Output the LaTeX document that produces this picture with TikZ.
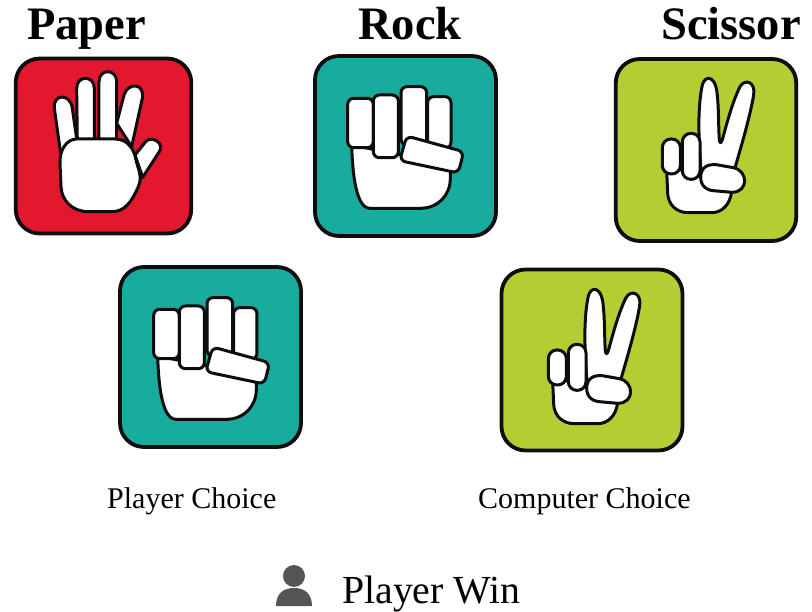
\documentclass[tikz,border=0pt]{standalone}
\usepackage{fontspec}
\setmainfont{Liberation Serif}
\definecolor{cardred}{HTML}{E3182E}
\definecolor{cardteal}{HTML}{17AC9E}
\definecolor{cardgreen}{HTML}{B3CE33}
\definecolor{iconGrey}{HTML}{555555}
\tikzset{
  card/.style = {draw = black!95, line width = 3.8pt, rounded corners = 24pt, inner sep = 0pt},
  hand/.style = {draw = black!95, fill = white, line width = 3pt, line join = round},
  heading/.style = {anchor = base west, inner sep = 0pt, font = \fontsize{46.5}{46.5}\selectfont\bfseries},
  caption/.style = {anchor = base west, inner sep = 0pt, font = \fontsize{30}{30}\selectfont},
  rockhand/.pic = {
    \draw [hand] (140,300) .. controls (142,370) and (150,490) .. (195,490) -- (345,490)
      .. controls (400,490) and (436,450) .. (436,400) -- (436,360) -- cycle;
    \draw [hand, rounded corners = 6pt] (128,160) rectangle (205,308);
    \draw [hand, rounded corners = 6pt] (288,125) rectangle (365,300);
    \draw [hand, rounded corners = 6pt] (368,155) rectangle (438,310);
    \draw [hand, rounded corners = 6pt] (205,150) rectangle (280,338);
    \draw [hand, rounded corners = 6pt] (305,273) -- (476,320) -- (460,384) -- (284,347) -- cycle;
  },
  paperhand/.pic = {
    \draw [hand] (182,340) -- (163,205) .. controls (158,160) and (212,160) .. (217,205) -- (232,310) -- cycle;
    \draw [hand] (232,310) -- (230,145) .. controls (230,105) and (283,105) .. (283,145) -- (283,310) -- cycle;
    \draw [hand] (297,310) -- (297,125) .. controls (297,85) and (350,85) .. (350,125) -- (350,310) -- cycle;
    \draw [hand] (350,250) -- (372,165) .. controls (385,125) and (435,130) .. (427,175) -- (395,320) -- cycle;
    \draw [hand] (405,345) -- (437,305) .. controls (455,285) and (495,310) .. (478,335) -- (428,412) -- cycle;
    \draw [hand] (230,297) -- (345,297) .. controls (385,297) and (403,330) .. (408,360)
      .. controls (415,390) and (428,410) .. (415,440) .. controls (395,485) and (375,515) .. (335,515)
      -- (265,515) .. controls (215,515) and (185,480) .. (183,440) -- (180,370)
      .. controls (178,330) and (200,297) .. (230,297) -- cycle;
  },
  scissorhand/.pic = {
    \draw [hand] (185,360) -- (188,430) .. controls (190,465) and (215,488) .. (250,488) -- (320,488)
      .. controls (350,488) and (375,465) .. (380,425) -- (385,360) -- cycle;
    \draw [hand] (288,360) .. controls (280,260) and (278,170) .. (292,105)
      .. controls (300,75) and (328,78) .. (335,120) .. controls (342,170) and (340,230) .. (343,270)
      .. controls (345,285) and (350,278) .. (354,262) .. controls (368,210) and (385,150) .. (405,110)
      .. controls (420,85) and (452,95) .. (446,135) .. controls (435,200) and (410,285) .. (388,360) -- cycle;
    \draw [hand, rounded corners = 8.5pt] (172,267) rectangle (226,372);
    \draw [hand, rounded corners = 8.5pt] (232,250) rectangle (285,388);
    \draw [hand] (288,372) .. controls (293,345) and (320,340) .. (345,346) -- (385,353)
      .. controls (430,362) and (432,427) .. (380,427) -- (325,422) .. controls (298,420) and (283,400) .. (288,372) -- cycle;
  },
}

\begin{document}
\begin{tikzpicture}[x = 1pt, y = -1pt]
\useasboundingbox (0,0) rectangle (812,612);

% top row
\node [card, fill = cardred, minimum width = 175.5pt, minimum height = 175pt] (paperCard) at (103.5,146) {};
\node [card, fill = cardteal, minimum width = 181pt, minimum height = 180pt] (rockCard) at (405.5,146) {};
\node [card, fill = cardgreen, minimum width = 180.5pt, minimum height = 182pt] (scissorCard) at (706,150) {};

\pic [scale = 1/3] at (0,40) {paperhand};
\pic [scale = 1/3] at (305,45) {rockhand};
\pic [scale = 1/3] at (605,50) {scissorhand};

\node [heading] (paperText) at (27,40) {Paper};
\node [heading] (rockText) at (358,40) {Rock};
\node [heading] (scissorText) at (661,40) {Scissor};

% the two choices
\node [card, fill = cardteal, minimum width = 181pt, minimum height = 180pt] (playerCard) at (210.5,357) {};
\node [card, fill = cardgreen, minimum width = 181pt, minimum height = 181pt] (computerCard) at (592,360) {};

\pic [scale = 1/3] at (111,256) {rockhand};
\pic [scale = 1/3] at (491,261) {scissorhand};

\node [caption] (playerText) at (107,508) {Player Choice};
\node [caption] (computerText) at (478,508) {Computer Choice};

% result
\fill [iconGrey] (294,576) circle (11);
\fill [iconGrey] (276,606) .. controls (276,593) and (284,588) .. (294,588)
  .. controls (304,588) and (312,593) .. (312,606) -- cycle;
\node [caption, font = \fontsize{39.8}{39.8}\selectfont] (resultText) at (342,603) {Player Win};

\end{tikzpicture}
\end{document}
